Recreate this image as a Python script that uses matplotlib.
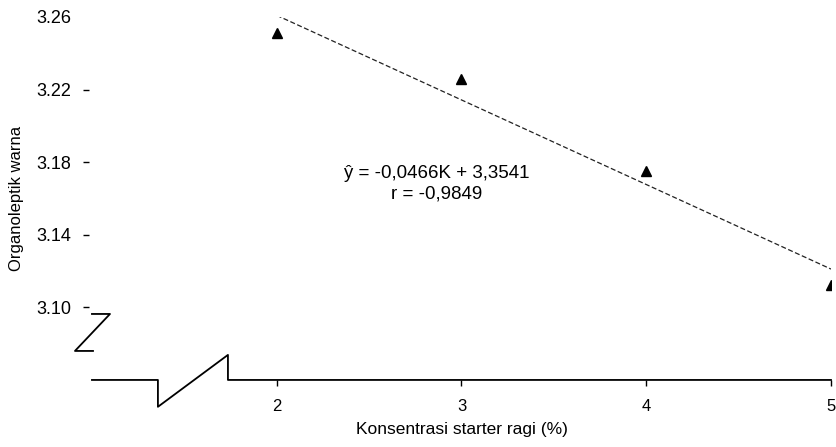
import numpy as np
import matplotlib.pyplot as plt
from matplotlib import transforms

plt.rcParams['font.family'] = ['Liberation Sans', 'DejaVu Sans']

# data
konsentrasi = [2, 3, 4, 5]
warna = [3.251, 3.226, 3.175, 3.1125]
intercept = 3.3541
slope = -0.0466
eq_text = 'ŷ = -0,0466K + 3,3541\nr = -0,9849'
xticks = [2, 3, 4, 5]
yticks = [3.10, 3.14, 3.18, 3.22, 3.26]

fig = plt.figure(figsize=(8.36, 4.47), dpi=100)
ax = fig.add_axes([0.110, 0.150, 0.884, 0.812])

for s in ['top', 'right', 'left', 'bottom']:
    ax.spines[s].set_visible(False)
ax.spines['left'].set_position(('outward', 2))

xfit = np.array([2, 5])
yfit = intercept + slope * xfit
ax.plot(xfit, yfit, color='#222222', lw=0.9, dashes=(4, 2))
ax.plot(konsentrasi, warna, '^', color='black', markersize=7)

ax.set_xlim(1, 5)
ax.set_ylim(3.06, 3.26)
ax.set_xticks(xticks)
ax.set_xticklabels([str(x) for x in xticks], fontsize=12)
ax.set_yticks(yticks)
ax.set_yticklabels(['%.2f' % y for y in yticks], fontsize=13)

ax.tick_params(axis='y', direction='out', length=4, width=1, pad=8.6)
ax.tick_params(axis='x', direction='out', length=4.5, width=1, pad=9)
ax.yaxis.get_major_ticks()[-1].tick1line.set_visible(False)

# x axis line with break
tr = transforms.blended_transform_factory(ax.transData, ax.transAxes)
ax.plot([1, 1.357, 1.357, 1.736, 1.736, 5],
        [0, 0, -0.074, 0.069, 0, 0],
        color='black', lw=1.3, transform=tr, clip_on=False)

# y axis break mark
ax.plot([0, 0.0244, -0.023, 0.0014],
        [0.1818, 0.1818, 0.0799, 0.0799],
        color='black', lw=1.3, transform=ax.transAxes, clip_on=False)

ax.text(2.868, 3.168, eq_text, ha='center', va='center', fontsize=13.5,
        linespacing=1.25)

ax.set_xlabel('Konsentrasi starter ragi (%)', fontsize=12.5, labelpad=6)
ax.set_ylabel('Organoleptik warna', fontsize=12, labelpad=9)

fig.savefig('out.png', dpi=100)
